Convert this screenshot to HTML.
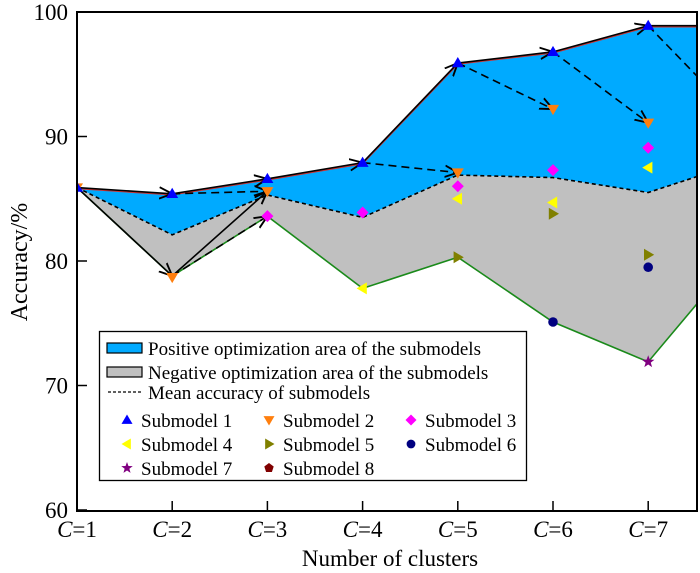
<!DOCTYPE html>
<html><head><meta charset="utf-8"><style>
body{margin:0;background:#fff}
svg{display:block;font-family:"Liberation Serif",serif}
</style></head><body>
<svg id="c" width="700" height="573">
<defs>
<clipPath id="clip"><rect x="77" y="12" width="621" height="499"/></clipPath>
<marker id="ah" viewBox="0 0 10 10" refX="9" refY="5" markerWidth="9" markerHeight="9" orient="auto"><path d="M0,1 L9,5 L0,9" fill="none" stroke="#000" stroke-width="1.3"/></marker>
</defs>
<g id="plot" clip-path="url(#clip)"></g>
<g id="axes"></g>
</svg>
<script>
const categories=[1,2,3,4,5,6,7,8];
const maxAcc=[85.9,85.4,86.6,87.9,95.9,96.8,98.9,98.9];
const meanAcc=[85.9,82.1,85.3,83.5,86.9,86.7,85.5,88.0];
const minAcc=[85.9,78.8,83.6,77.8,80.3,75.1,71.9,81.0];
const sub1=[[1,85.9],[2,85.4],[3,86.6],[4,87.9],[5,95.9],[6,96.8],[7,98.9]];
const sub2=[[1,85.9],[2,78.7],[3,85.6],[5,87.1],[6,92.2],[7,91.1]];
const sub3=[[3,83.6],[4,83.9],[5,86.0],[6,87.3],[7,89.1]];
const sub4=[[4,77.8],[5,85.0],[6,84.7],[7,87.5]];
const sub5=[[5,80.3],[6,83.8],[7,80.5]];
const sub6=[[6,75.1],[7,79.5]];
const sub7=[[7,71.9]];
const yTicks=[60,70,80,90,100];
const xTicks=[1,2,3,4,5,6,7];
const NS="http://www.w3.org/2000/svg";
const X=v=>77+(v-1)*95.2;
const Y=v=>12+(100-v)*12.45;
function el(t,a,p){const e=document.createElementNS(NS,t);for(const k in a)e.setAttribute(k,a[k]);p.appendChild(e);return e;}
const plot=document.getElementById('plot'),axes=document.getElementById('axes'),svg=document.getElementById('c');
const pts=a=>a.map((v,i)=>X(categories[i])+','+Y(v));
let e;
e=el('polygon',{points:pts(maxAcc).concat(pts(meanAcc).reverse()).join(' '),fill:'#00aaff'},plot);


e=el('polygon',{points:pts(meanAcc).concat(pts(minAcc).reverse()).join(' '),fill:'#c0c0c0'},plot);


e=el('polyline',{points:pts(meanAcc).join(' '),fill:'none',stroke:'#000','stroke-width':1.6,'stroke-dasharray':'4,3'},plot);


e=el('polyline',{points:pts(minAcc).join(' '),fill:'none',stroke:'#1a8a1a','stroke-width':1.6},plot);


e=el('polyline',{points:pts(maxAcc).map(p=>{const [a,b]=p.split(',');return a+','+(+b+1);}).join(' '),fill:'none',stroke:'#c33','stroke-width':1.5},plot);


function arrow(x1,y1,x2,y2,dash){const a=el('line',{x1:X(x1),y1:Y(y1),x2:X(x2),y2:Y(y2),stroke:'#000','stroke-width':1.6,'marker-end':'url(#ah)'},plot);if(dash)a.setAttribute('stroke-dasharray','8,5');return a;}
for(let i=0;i<7;i++){e=arrow(categories[i],maxAcc[i],categories[i+1],maxAcc[i+1],false);

}
e=arrow(1,minAcc[0],2,minAcc[1],false);


e=arrow(2,minAcc[1],3,sub2[2][1],false);


e=arrow(2,minAcc[1],3,minAcc[2],true);


const dashTargets=[[2,3,85.6],[4,5,87.1],[5,6,92.2],[6,7,91.1],[7,8,91.0]];
dashTargets.forEach(d=>{e=arrow(d[0],maxAcc[d[0]-1],d[1],d[2],true);

});
function marker(type,cx,cy,g,s){
 s=s||6;
 if(type==1)return el('polygon',{points:`${cx},${cy-s} ${cx-s},${cy+s*0.7} ${cx+s},${cy+s*0.7}`,fill:'#0000ff'},g);
 if(type==2)return el('polygon',{points:`${cx},${cy+s} ${cx-s},${cy-s*0.7} ${cx+s},${cy-s*0.7}`,fill:'#ff7f0e'},g);
 if(type==3)return el('polygon',{points:`${cx},${cy-s} ${cx+s},${cy} ${cx},${cy+s} ${cx-s},${cy}`,fill:'#ff00ff'},g);
 if(type==4)return el('polygon',{points:`${cx-s},${cy} ${cx+s*0.7},${cy-s} ${cx+s*0.7},${cy+s}`,fill:'#ffff00'},g);
 if(type==5)return el('polygon',{points:`${cx+s},${cy} ${cx-s*0.7},${cy-s} ${cx-s*0.7},${cy+s}`,fill:'#808000'},g);
 if(type==6)return el('circle',{cx:cx,cy:cy,r:s*0.8,fill:'#000080'},g);
 if(type==7){let p=[];for(let k=0;k<10;k++){const r=k%2?s*0.45:s*1.1,a=-Math.PI/2+k*Math.PI/5;p.push((cx+r*Math.cos(a))+','+(cy+r*Math.sin(a)));}return el('polygon',{points:p.join(' '),fill:'#800080'},g);}
 if(type==8){let p=[];for(let k=0;k<5;k++){const a=-Math.PI/2+k*2*Math.PI/5;p.push((cx+s*0.9*Math.cos(a))+','+(cy+s*0.9*Math.sin(a)));}return el('polygon',{points:p.join(' '),fill:'#800000'},g);}
}
[sub7,sub6,sub5,sub4,sub3,sub2,sub1].forEach((arr,j)=>{const t=7-j;arr.forEach(p=>{e=marker(t,X(p[0]),Y(p[1]),plot);

});});
e=el('rect',{x:77,y:12,width:620,height:499,fill:'none',stroke:'#000','stroke-width':2},axes);


yTicks.forEach(v=>{el('line',{x1:77,x2:87,y1:Y(v),y2:Y(v),stroke:'#000','stroke-width':1.5},axes);
e=el('text',{x:68,y:Y(v)+8,'text-anchor':'end','font-size':23},axes);e.textContent=v;

});
xTicks.forEach(v=>{el('line',{x1:X(v),x2:X(v),y1:511,y2:501,stroke:'#000','stroke-width':1.5},axes);
e=el('text',{x:X(v),y:537,'text-anchor':'middle','font-size':23},axes);
const t=el('tspan',{'font-style':'italic'},e);t.textContent='C';const t2=el('tspan',{},e);t2.textContent='='+v;

});
e=el('text',{x:390,y:566,'text-anchor':'middle','font-size':23},axes);e.textContent='Number of clusters';


e=el('text',{x:0,y:0,'text-anchor':'middle','font-size':24,transform:'translate(27,262) rotate(-90)'},axes);e.textContent='Accuracy/%';


const lg=el('g',{},svg);


el('rect',{x:99.5,y:331.5,width:427,height:149,fill:'#fff',stroke:'#000','stroke-width':1.3},lg);
el('rect',{x:107,y:343,width:35,height:10,fill:'#00aaff',stroke:'#000','stroke-width':1.2},lg);
el('rect',{x:107,y:367,width:35,height:10,fill:'#c0c0c0',stroke:'#000','stroke-width':1.2},lg);
el('line',{x1:108,x2:142,y1:392,y2:392,stroke:'#000','stroke-width':1.2,'stroke-dasharray':'3,2'},lg);
[['Positive optimization area of the submodels',355],['Negative optimization area of the submodels',379],['Mean accuracy of submodels',399]].forEach(a=>{e=el('text',{x:148,y:a[1],'font-size':19},lg);e.textContent=a[0];

});
for(let i=1;i<=8;i++){const col=(i-1)%3,row=Math.floor((i-1)/3);const mx=127+col*142,my=420+row*24;
marker(i,mx,my,lg,5.5);
e=el('text',{x:mx+14,y:my+7,'font-size':19},lg);e.textContent='Submodel '+i;

}
</script>
</body></html>
